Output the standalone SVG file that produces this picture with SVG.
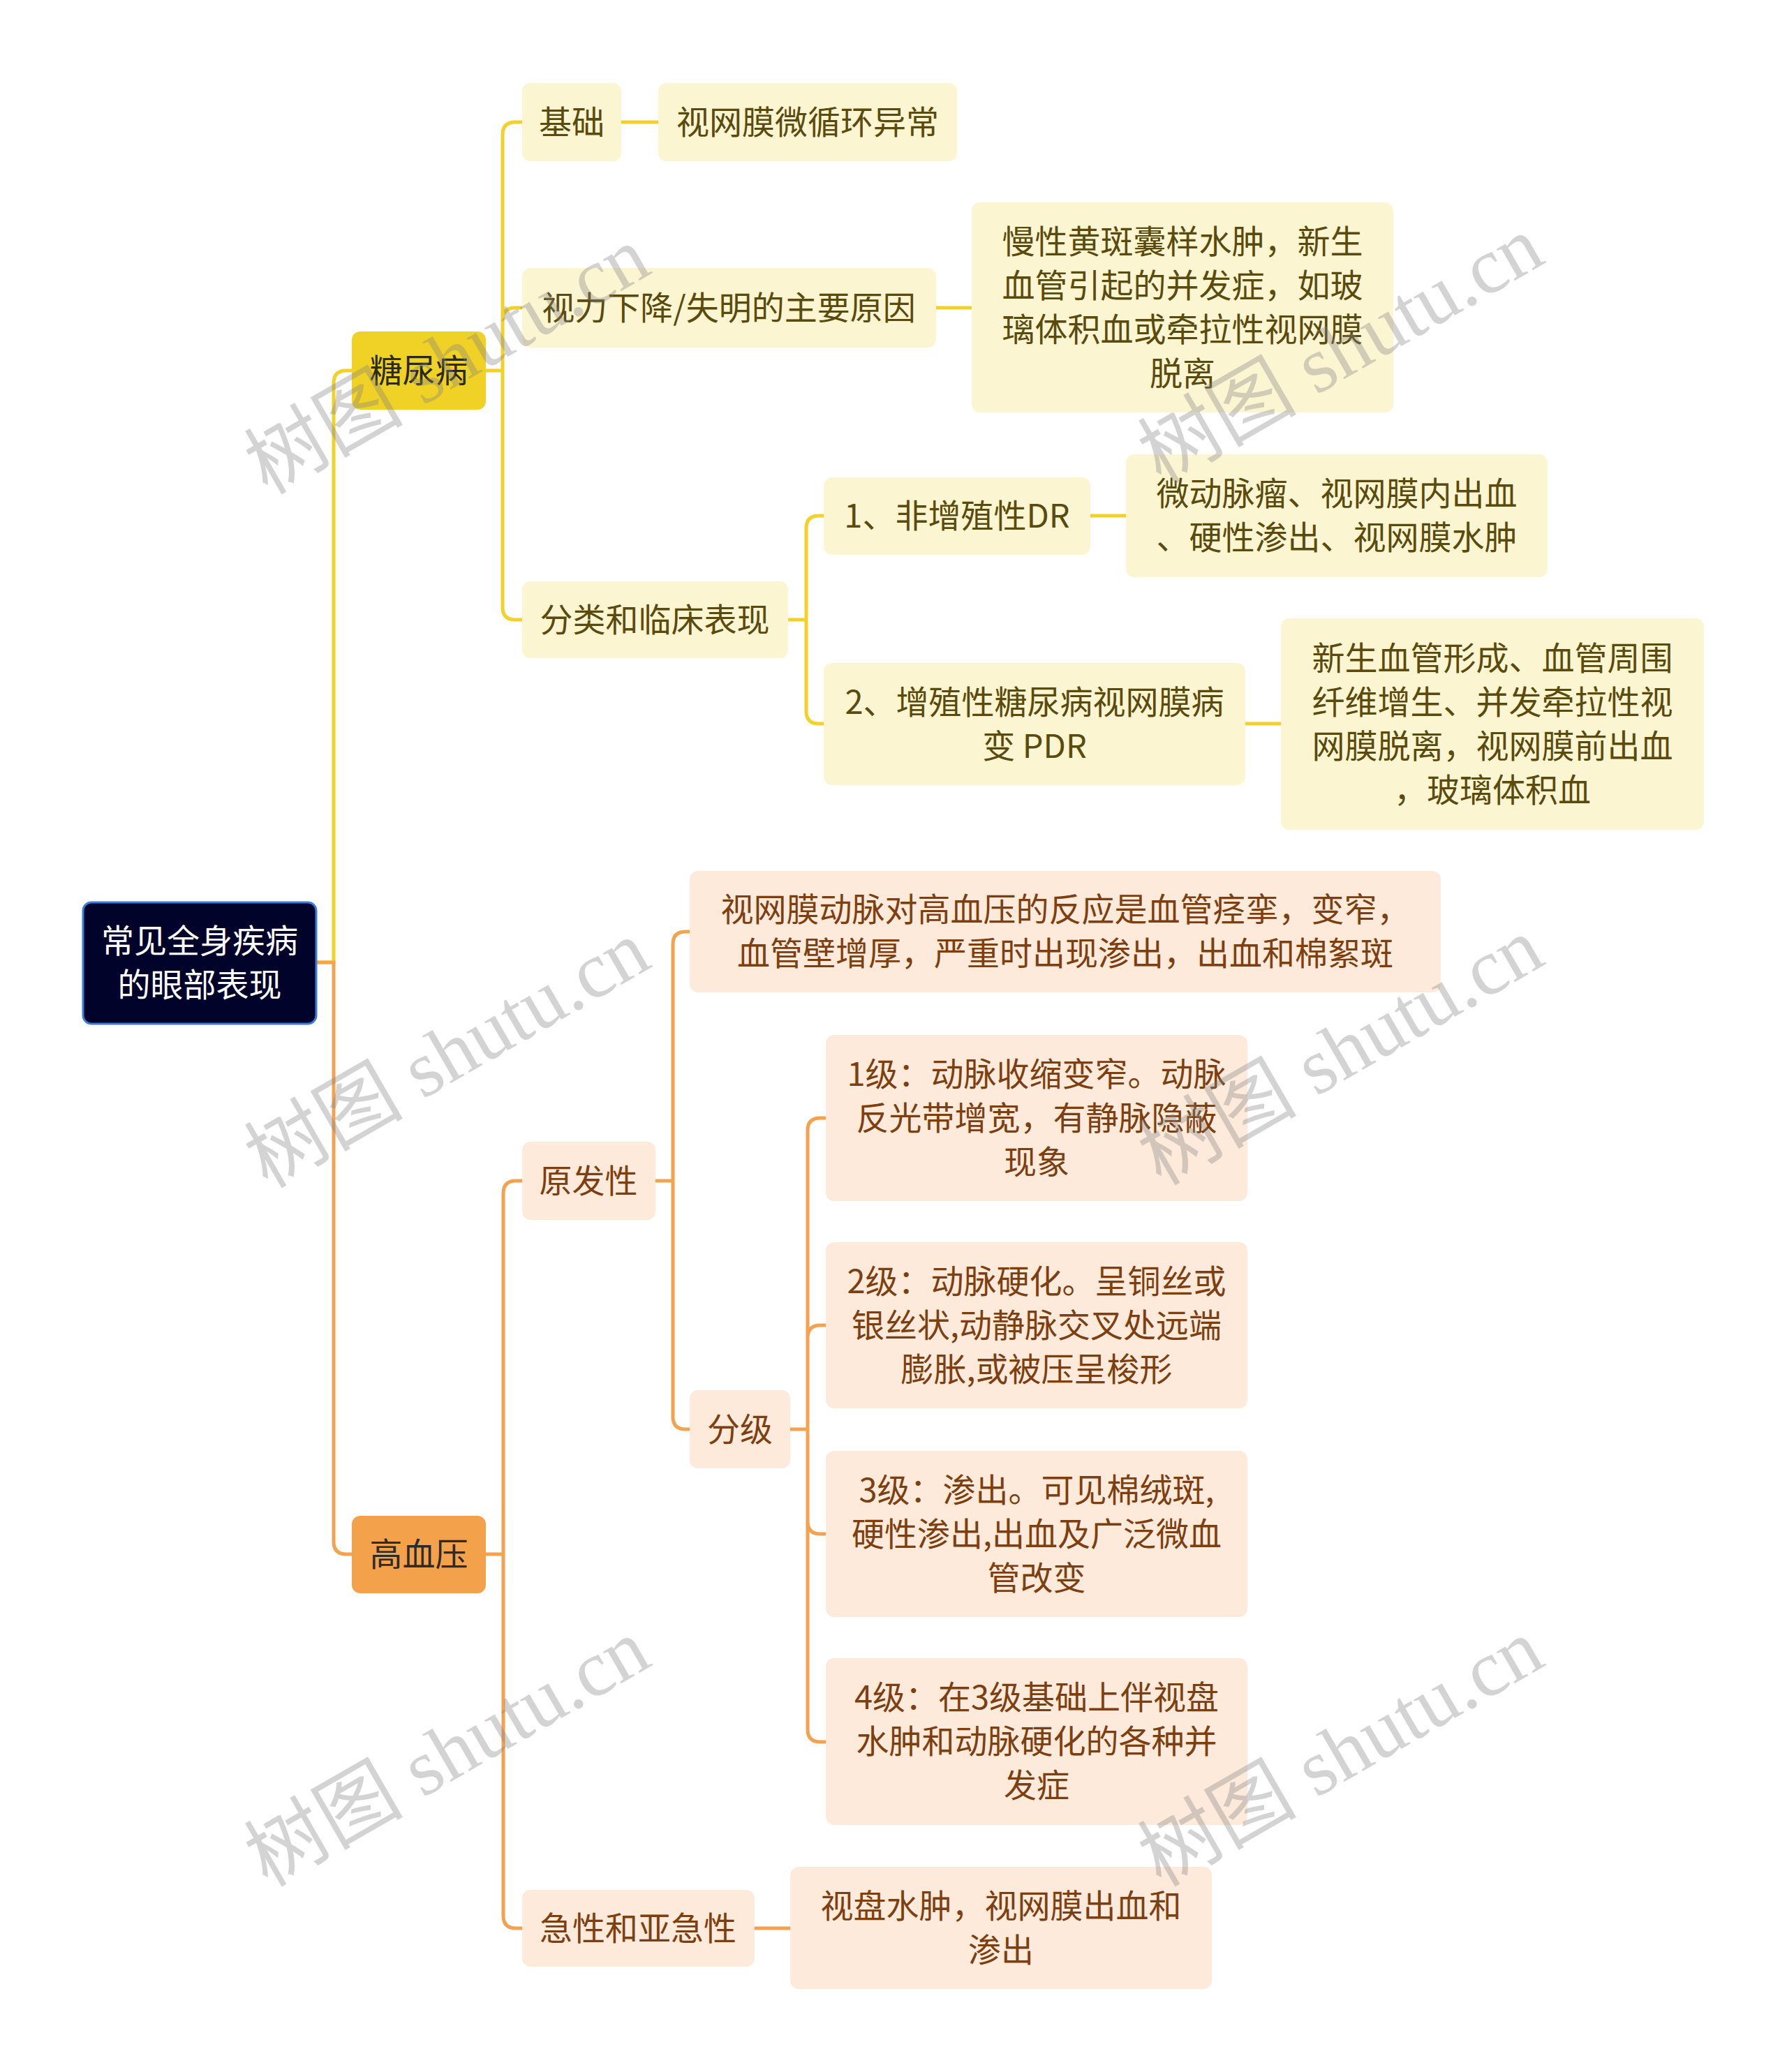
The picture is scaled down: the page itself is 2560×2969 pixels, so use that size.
<svg xmlns="http://www.w3.org/2000/svg" width="2560" height="2969" viewBox="0 0 2560 2969">
<style>
text{font-family:"Noto Sans CJK SC","Microsoft YaHei",sans-serif;font-size:47px;text-anchor:middle}
.cy{fill:none;stroke:#f2d22a;stroke-width:5}
.co{fill:none;stroke:#f3a24f;stroke-width:5}
.ny rect{fill:#fcf5d2}
.ny text{fill:#5a4a0c}
.no rect{fill:#fdeadb}
.no text{fill:#7d3f0f}
.wm{font-family:"Liberation Serif","Noto Sans CJK SC",serif;font-size:114px;fill:#808080;fill-opacity:0.35}
</style>
<rect width="2560" height="2969" fill="#ffffff"/>
<g id="connectors">
<path class="cy" d="M453,1379 H478 V549 Q478,531 496,531 H504"/>
<path class="co" d="M453,1379 H478 V2209 Q478,2227 496,2227 H504"/>
<path class="cy" d="M696,531 H720 M720,531 V193 Q720,175 738,175 H748 M720,531 V459 Q720,441 738,441 H748 M720,531 V870 Q720,888 738,888 H748"/>
<path class="cy" d="M890,175 H943 M1341,441 H1392"/>
<path class="cy" d="M1129,888 H1155 M1155,888 V757 Q1155,739 1173,739 H1180 M1155,888 V1019 Q1155,1037 1173,1037 H1180"/>
<path class="cy" d="M1562,739 H1613 M1784,1037 H1835"/>
<path class="co" d="M696,2227 H721 M721,2227 V1710 Q721,1692 739,1692 H748 M721,2227 V2745 Q721,2763 739,2763 H748"/>
<path class="co" d="M939,1692 H964 M964,1692 V1353 Q964,1335 982,1335 H988 M964,1692 V2030 Q964,2048 982,2048 H988"/>
<path class="co" d="M1132,2048 H1157 M1157,2048 V1620 Q1157,1602 1175,1602 H1183 M1157,2048 V1917 Q1157,1899 1175,1899 H1183 M1157,2048 V2180 Q1157,2198 1175,2198 H1183 M1157,2048 V2478 Q1157,2496 1175,2496 H1183"/>
<path class="co" d="M1081,2763 H1132"/>
</g>
<g id="root">
<rect x="119" y="1293" width="334" height="174" rx="12" fill="#02032b" stroke="#3b7bdc" stroke-width="3"/>
<text x="286" y="1365" fill="#ffffff">常见全身疾病</text>
<text x="286" y="1428" fill="#ffffff">的眼部表现</text>
</g>
<g id="n-diabetes">
<rect x="504" y="475" width="192" height="112" rx="12" fill="#f0d226"/>
<text x="600" y="548" fill="#2b2a14">糖尿病</text>
</g>
<g id="n-hypertension">
<rect x="504" y="2172" width="192" height="111" rx="12" fill="#f4a14c"/>
<text x="600" y="2244" fill="#2b2b2b">高血压</text>
</g>
<g id="n-jichu" class="ny">
<rect x="748" y="119" width="142" height="112" rx="12"/>
<text x="819" y="192">基础</text>
</g>
<g id="n-jichu-1" class="ny">
<rect x="943" y="119" width="428" height="112" rx="12"/>
<text x="1157" y="192">视网膜微循环异常</text>
</g>
<g id="n-shili" class="ny">
<rect x="748" y="384" width="593" height="114" rx="12"/>
<text x="1044" y="458">视力下降/失明的主要原因</text>
</g>
<g id="n-shili-1" class="ny">
<rect x="1392" y="290" width="604" height="301" rx="12"/>
<text x="1694" y="363">慢性黄斑囊样水肿，新生</text>
<text x="1694" y="426">血管引起的并发症，如玻</text>
<text x="1694" y="489">璃体积血或牵拉性视网膜</text>
<text x="1694" y="552">脱离</text>
</g>
<g id="n-fenlei" class="ny">
<rect x="748" y="833" width="381" height="110" rx="12"/>
<text x="938" y="905">分类和临床表现</text>
</g>
<g id="n-npdr" class="ny">
<rect x="1180" y="684" width="382" height="111" rx="12"/>
<text x="1371" y="756">1、非增殖性DR</text>
</g>
<g id="n-npdr-1" class="ny">
<rect x="1613" y="651" width="604" height="176" rx="12"/>
<text x="1915" y="724">微动脉瘤、视网膜内出血</text>
<text x="1915" y="787">、硬性渗出、视网膜水肿</text>
</g>
<g id="n-pdr" class="ny">
<rect x="1180" y="950" width="604" height="175" rx="12"/>
<text x="1482" y="1023">2、增殖性糖尿病视网膜病</text>
<text x="1482" y="1086">变 PDR</text>
</g>
<g id="n-pdr-1" class="ny">
<rect x="1835" y="886" width="606" height="303" rx="12"/>
<text x="2138" y="960">新生血管形成、血管周围</text>
<text x="2138" y="1023">纤维增生、并发牵拉性视</text>
<text x="2138" y="1086">网膜脱离，视网膜前出血</text>
<text x="2138" y="1149">，玻璃体积血</text>
</g>
<g id="n-yuanfa" class="no">
<rect x="748" y="1636" width="191" height="112" rx="12"/>
<text x="843" y="1709">原发性</text>
</g>
<g id="n-yuanfa-1" class="no">
<rect x="988" y="1248" width="1076" height="174" rx="12"/>
<text x="1526" y="1320">视网膜动脉对高血压的反应是血管痉挛，变窄，</text>
<text x="1526" y="1383">血管壁增厚，严重时出现渗出，出血和棉絮斑</text>
</g>
<g id="n-fenji" class="no">
<rect x="988" y="1992" width="144" height="112" rx="12"/>
<text x="1060" y="2065">分级</text>
</g>
<g id="n-grade1" class="no">
<rect x="1183" y="1483" width="604" height="238" rx="12"/>
<text x="1485" y="1556">1级：动脉收缩变窄。动脉</text>
<text x="1485" y="1619">反光带增宽，有静脉隐蔽</text>
<text x="1485" y="1682">现象</text>
</g>
<g id="n-grade2" class="no">
<rect x="1183" y="1780" width="604" height="238" rx="12"/>
<text x="1485" y="1853">2级：动脉硬化。呈铜丝或</text>
<text x="1485" y="1916">银丝状,动静脉交叉处远端</text>
<text x="1485" y="1979">膨胀,或被压呈梭形</text>
</g>
<g id="n-grade3" class="no">
<rect x="1183" y="2079" width="604" height="238" rx="12"/>
<text x="1485" y="2152">3级：渗出。可见棉绒斑,</text>
<text x="1485" y="2215">硬性渗出,出血及广泛微血</text>
<text x="1485" y="2278">管改变</text>
</g>
<g id="n-grade4" class="no">
<rect x="1183" y="2376" width="604" height="239" rx="12"/>
<text x="1485" y="2449">4级：在3级基础上伴视盘</text>
<text x="1485" y="2512">水肿和动脉硬化的各种并</text>
<text x="1485" y="2575">发症</text>
</g>
<g id="n-jixing" class="no">
<rect x="748" y="2708" width="333" height="110" rx="12"/>
<text x="914" y="2780">急性和亚急性</text>
</g>
<g id="n-jixing-1" class="no">
<rect x="1132" y="2675" width="604" height="175" rx="12"/>
<text x="1434" y="2748">视盘水肿，视网膜出血和</text>
<text x="1434" y="2811">渗出</text>
</g>
<g id="watermarks">
<text class="wm" transform="translate(660,550) rotate(-30)">树图 shutu.cn</text>
<text class="wm" transform="translate(1940,535) rotate(-30)">树图 shutu.cn</text>
<text class="wm" transform="translate(660,1544) rotate(-30)">树图 shutu.cn</text>
<text class="wm" transform="translate(1940,1540) rotate(-30)">树图 shutu.cn</text>
<text class="wm" transform="translate(660,2545) rotate(-30)">树图 shutu.cn</text>
<text class="wm" transform="translate(1940,2545) rotate(-30)">树图 shutu.cn</text>
</g>
</svg>
